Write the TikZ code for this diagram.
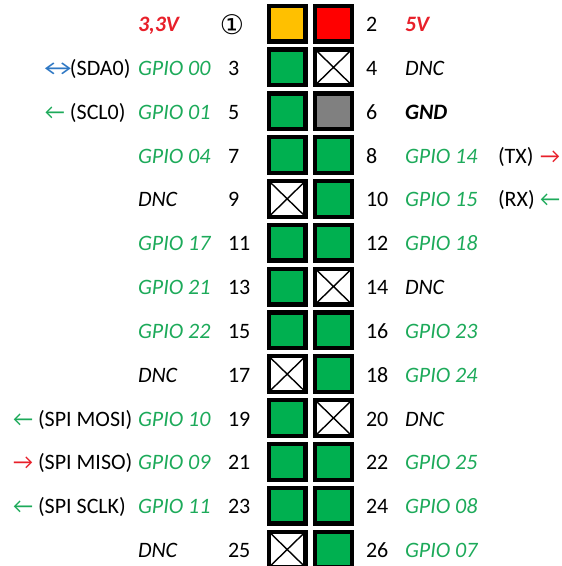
\documentclass[tikz,border=0pt]{standalone}
\usepackage{fontspec}
\setmainfont{Carlito}
\newfontfamily\symfont{DejaVu Sans}
\definecolor{pinorange}{HTML}{FFC000}
\definecolor{pinred}{HTML}{FF0000}
\definecolor{pingreen}{HTML}{00B050}
\definecolor{pingray}{HTML}{808080}
\definecolor{tgreen}{HTML}{1DAA5A}
\definecolor{tred}{HTML}{E8202A}
\definecolor{tblue}{HTML}{2F78C4}
\newcommand{\fs}{\fontsize{22}{26}\selectfont}
\begin{document}
\begin{tikzpicture}[x=1pt,y=-1pt,
  pin/.style={draw=black, line width=4.3pt, minimum width=36.7pt, minimum height=35.7pt, inner sep=0pt, outer sep=0pt},
  gpin/.style={pin, fill=pingreen},
  dnc/.style={pin, fill=white, path picture={\draw[line width=1.4pt] (path picture bounding box.north west) -- (path picture bounding box.south east) (path picture bounding box.north east) -- (path picture bounding box.south west);}},
  lab/.style={anchor=base west, inner sep=0pt, outer sep=0pt, font=\fs},
  num/.style={lab, text=black},
  gp/.style={lab, text=tgreen, font=\fs\itshape},
  dn/.style={lab, text=black, font=\fs\itshape},
  pw/.style={lab, text=tred, font=\fs\bfseries\itshape},
  gnd/.style={lab, text=black, font=\fs\bfseries\itshape},
  sig/.style={lab, text=black},
  arr/.style={lab},
]
\useasboundingbox (0,0) rectangle (562,566);
% rows: y centres
\def\ra{23.5}\def\rb{67.3}\def\rc{111.2}\def\rd{155.0}\def\re{198.8}\def\rf{242.7}\def\rg{286.5}
\def\rh{330.3}\def\ri{374.1}\def\rj{418.0}\def\rk{461.8}\def\rl{505.6}\def\rm{549.5}
\def\xl{287.2}\def\xr{333.5}
% pin squares
\node[pin, fill=pinorange] (p1) at (\xl,\ra) {};
\node[pin, fill=pinred] (p2) at (\xr,\ra) {};
\node[gpin] (p3) at (\xl,\rb) {};
\node[dnc] (p4) at (\xr,\rb) {};
\node[gpin] (p5) at (\xl,\rc) {};
\node[pin, fill=pingray] (p6) at (\xr,\rc) {};
\node[gpin] (p7) at (\xl,\rd) {};
\node[gpin] (p8) at (\xr,\rd) {};
\node[dnc] (p9) at (\xl,\re) {};
\node[gpin] (p10) at (\xr,\re) {};
\node[gpin] (p11) at (\xl,\rf) {};
\node[gpin] (p12) at (\xr,\rf) {};
\node[gpin] (p13) at (\xl,\rg) {};
\node[dnc] (p14) at (\xr,\rg) {};
\node[gpin] (p15) at (\xl,\rh) {};
\node[gpin] (p16) at (\xr,\rh) {};
\node[dnc] (p17) at (\xl,\ri) {};
\node[gpin] (p18) at (\xr,\ri) {};
\node[gpin] (p19) at (\xl,\rj) {};
\node[dnc] (p20) at (\xr,\rj) {};
\node[gpin] (p21) at (\xl,\rk) {};
\node[gpin] (p22) at (\xr,\rk) {};
\node[gpin] (p23) at (\xl,\rl) {};
\node[gpin] (p24) at (\xr,\rl) {};
\node[dnc] (p25) at (\xl,\rm) {};
\node[gpin] (p26) at (\xr,\rm) {};
% left numbers
\node[inner sep=0pt, font=\symfont\fontsize{27}{29}\selectfont] (n1) at (232,25) {①};
\foreach \n/\y in {3/\rb,5/\rc,7/\rd,9/\re,11/\rf,13/\rg,15/\rh,17/\ri,19/\rj,21/\rk,23/\rl,25/\rm}
  \node[num] (n\n) at (228,\y+8) {\n};
% right numbers
\foreach \n/\y in {2/\ra,4/\rb,6/\rc,8/\rd,10/\re,12/\rf,14/\rg,16/\rh,18/\ri,20/\rj,22/\rk,24/\rl,26/\rm}
  \node[num] (n\n) at (366,\y+8) {\n};
% left labels
\node[pw] (l1) at (138,\ra+8) {3,3V};
\node[gp] (l3) at (138,\rb+8) {GPIO 00};
\node[gp] (l5) at (138,\rc+8) {GPIO 01};
\node[gp] (l7) at (138,\rd+8) {GPIO 04};
\node[dn] (l9) at (138,\re+8) {DNC};
\node[gp] (l11) at (138,\rf+8) {GPIO 17};
\node[gp] (l13) at (138,\rg+8) {GPIO 21};
\node[gp] (l15) at (138,\rh+8) {GPIO 22};
\node[dn] (l17) at (138,\ri+8) {DNC};
\node[gp] (l19) at (138,\rj+8) {GPIO 10};
\node[gp] (l21) at (138,\rk+8) {GPIO 09};
\node[gp] (l23) at (138,\rl+8) {GPIO 11};
\node[dn] (l25) at (138,\rm+8) {DNC};
% right labels
\node[pw] (l2) at (405,\ra+8) {5V};
\node[dn] (l4) at (405,\rb+8) {DNC};
\node[gnd] (l6) at (405,\rc+8) {GND};
\node[gp] (l8) at (405,\rd+8) {GPIO 14};
\node[gp] (l10) at (405,\re+8) {GPIO 15};
\node[gp] (l12) at (405,\rf+8) {GPIO 18};
\node[dn] (l14) at (405,\rg+8) {DNC};
\node[gp] (l16) at (405,\rh+8) {GPIO 23};
\node[gp] (l18) at (405,\ri+8) {GPIO 24};
\node[dn] (l20) at (405,\rj+8) {DNC};
\node[gp] (l22) at (405,\rk+8) {GPIO 25};
\node[gp] (l24) at (405,\rl+8) {GPIO 08};
\node[gp] (l26) at (405,\rm+8) {GPIO 07};
% signal names and arrows
\node[arr, text=tblue] (a3) at (38,\rb+8) {\scalebox{1.4}[1]{↔}};
\node[sig] (s3) at (70,\rb+8) {(SDA0)};
\node[arr, text=tgreen] (a5) at (45,\rc+8) {←};
\node[sig] (s5) at (70,\rc+8) {(SCL0)};
\node[arr, text=tgreen] (a19) at (13,\rj+8) {←};
\node[sig] (s19) at (38,\rj+8) {(SPI MOSI)};
\node[arr, text=tred] (a21) at (13,\rk+8) {→};
\node[sig] (s21) at (38,\rk+8) {(SPI MISO)};
\node[arr, text=tgreen] (a23) at (13,\rl+8) {←};
\node[sig] (s23) at (38,\rl+8) {(SPI SCLK)};
\node[sig] (s8) at (498,\rd+8) {(TX)};
\node[arr, text=tred] (a8) at (540,\rd+8) {→};
\node[sig] (s10) at (498,\re+8) {(RX)};
\node[arr, text=tgreen] (a10) at (540,\re+8) {←};
\end{tikzpicture}
\end{document}
